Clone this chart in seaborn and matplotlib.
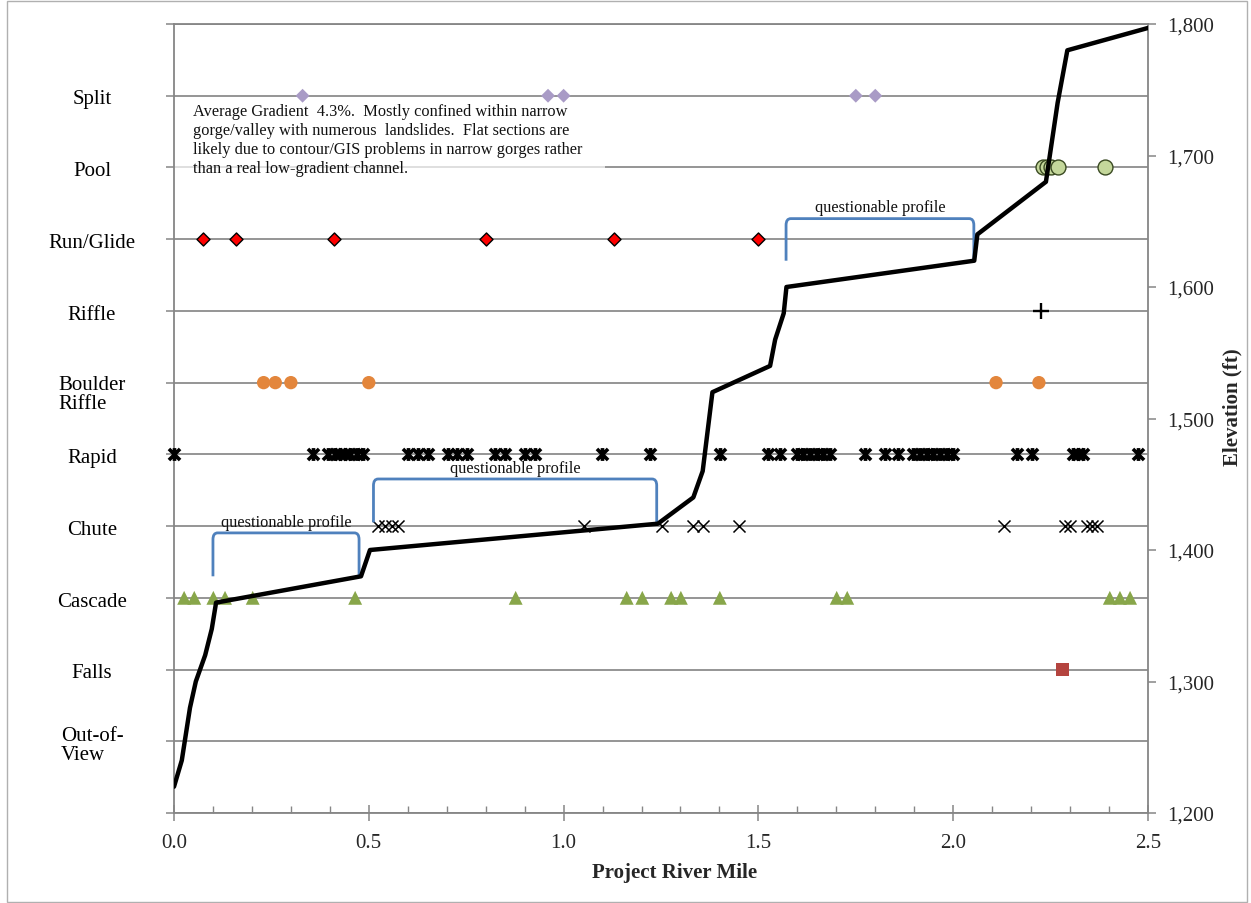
import numpy as np
import pandas as pd
import matplotlib
matplotlib.use("Agg")
import matplotlib.pyplot as plt
import seaborn as sns
from matplotlib.path import Path
from matplotlib.patches import PathPatch, Rectangle
from matplotlib.ticker import MultipleLocator, FixedLocator, FuncFormatter

# ---------------- data ----------------
# habitat categories, bottom to top on the left axis
categories = ["Out-of-\nView", "Falls", "Cascade", "Chute", "Rapid",
              "Boulder\nRiffle", "Riffle", "Run/Glide", "Pool", "Split"]

split_mi = [0.33, 0.96, 1.00, 1.75, 1.80]
pool_mi = [2.23, 2.24, 2.25, 2.27, 2.39]
run_glide_mi = [0.075, 0.16, 0.41, 0.80, 1.13, 1.50]
riffle_mi = [2.225]
boulder_riffle_mi = [0.23, 0.26, 0.30, 0.50, 2.11, 2.22]
rapid_mi = [0.0, 0.358, 0.396, 0.413, 0.426, 0.439, 0.452, 0.469, 0.486,
            0.601, 0.627, 0.653, 0.704, 0.726, 0.751, 0.824, 0.850, 0.901,
            0.927, 1.098, 1.222, 1.401, 1.525, 1.555, 1.598, 1.615, 1.632,
            1.650, 1.667, 1.684, 1.774, 1.826, 1.859, 1.898, 1.915, 1.932,
            1.949, 1.966, 1.983, 2.000, 2.163, 2.201, 2.308, 2.321, 2.334,
            2.475]
chute_mi = [0.524, 0.542, 0.559, 0.576, 1.052, 1.252, 1.333, 1.359, 1.451,
            2.131, 2.287, 2.300, 2.343, 2.355, 2.368]
cascade_mi = [0.026, 0.052, 0.101, 0.131, 0.202, 0.465, 0.877, 1.162, 1.202,
              1.276, 1.301, 1.401, 1.701, 1.728, 2.402, 2.428, 2.454]
falls_mi = [2.28]
out_of_view_mi = []

# elevation profile (right axis)
elev_mi = [0.0, 0.02, 0.041, 0.056, 0.08, 0.097, 0.108, 0.48, 0.503, 1.242,
           1.333, 1.357, 1.382, 1.530, 1.543, 1.565, 1.572, 2.054, 2.062,
           2.238, 2.268, 2.293, 2.5]
elev_ft = [1220, 1240, 1280, 1300, 1320, 1340, 1360, 1380, 1400, 1420,
           1440, 1460, 1520, 1540, 1560, 1580, 1600, 1620, 1640,
           1680, 1740, 1780, 1797]

x_ticks = [0.0, 0.5, 1.0, 1.5, 2.0, 2.5]
elev_ticks = [1200, 1300, 1400, 1500, 1600, 1700, 1800]

# "questionable profile" brackets: start mile, end mile, bottom ft, top ft
bracket_start = [0.100, 0.512, 1.571]
bracket_end = [0.475, 1.239, 2.053]
bracket_bottom = [1380, 1421, 1620]
bracket_top = [1413, 1454, 1652]
bracket_label = "questionable profile"

note = ("Average Gradient  4.3%.  Mostly confined within narrow\n"
        "gorge/valley with numerous  landslides.  Flat sections are\n"
        "likely due to contour/GIS problems in narrow gorges rather\n"
        "than a real low-gradient channel.")

series_mi = {
    "Split": split_mi, "Pool": pool_mi, "Run/Glide": run_glide_mi,
    "Riffle": riffle_mi, "Boulder\nRiffle": boulder_riffle_mi,
    "Rapid": rapid_mi, "Chute": chute_mi, "Cascade": cascade_mi,
    "Falls": falls_mi, "Out-of-\nView": out_of_view_mi,
}
rows = []
for cat, mis in series_mi.items():
    for m in mis:
        rows.append({"category": cat, "mile": m,
                     "row": categories.index(cat) + 1})
df = pd.DataFrame(rows, columns=["category", "mile", "row"])
elev_df = pd.DataFrame({"mile": elev_mi, "elevation": elev_ft})

# ---------------- style ----------------
sns.set_theme(style="white")
plt.rcParams["font.family"] = ["Liberation Serif", "DejaVu Serif"]
GRID = "#8c8c8c"
SPINE = "#868686"
FS = 15

star = Path([(-1, -1), (1, 1), (-1, 1), (1, -1), (0, -1.15), (0, 1.15)],
            [Path.MOVETO, Path.LINETO] * 3)

styles = {
    "Split": dict(marker="D", s=50, color="#A99BC6", edgecolor="none", linewidth=0),
    "Pool": dict(marker="o", s=115, color="#C4D79B", edgecolor="#3a4a22", linewidth=1.0),
    "Run/Glide": dict(marker="D", s=44, color="#FF0000", edgecolor="black", linewidth=1.0),
    "Riffle": dict(marker="+", s=120, color="black", linewidth=1.7),
    "Boulder\nRiffle": dict(marker="o", s=92, color="#E3863C", edgecolor="none", linewidth=0),
    "Rapid": dict(marker=star, s=85, color="black", edgecolor="black", linewidth=2.6),
    "Chute": dict(marker="x", s=75, color="black", linewidth=1.1),
    "Cascade": dict(marker="^", s=100, color="#88A64A", edgecolor="none", linewidth=0),
    "Falls": dict(marker="s", s=92, color="#B4443F", edgecolor="none", linewidth=0),
}

fig = plt.figure(figsize=(12.51, 9.04), dpi=100)
W, H = 1251, 904
L, R, T, B = 174, 1148, 25, 814
ax = fig.add_axes([L / W, 1 - B / H, (R - L) / W, (B - T) / H])

# markers by habitat
for cat in categories:
    sub = df[df["category"] == cat]
    if sub.empty:
        continue
    sns.scatterplot(data=sub, x="mile", y="row", ax=ax, legend=False,
                    zorder=4, clip_on=False, **styles[cat])

ax.set_xlim(0, 2.5)
ax.set_ylim(0, 11)
ax.set_yticks(range(0, 12))
ax.set_yticklabels([""] * 12)
ax.yaxis.grid(True, color=GRID, lw=1.3, zorder=0)
ax.xaxis.grid(False)
ax.set_axisbelow(True)
ax.tick_params(axis="y", which="major", left=True, direction="out",
               length=6, width=1.1, color=SPINE)
ax.xaxis.set_major_locator(FixedLocator(x_ticks))
ax.xaxis.set_minor_locator(MultipleLocator(0.1))
ax.xaxis.set_major_formatter(FuncFormatter(lambda v, p: f"{v:.1f}"))
ax.tick_params(axis="x", which="major", bottom=True, direction="inout",
               length=11, width=1.1, color=SPINE, labelsize=FS, pad=9)
ax.tick_params(axis="x", which="minor", bottom=True, direction="in",
               length=5, width=1.0, color=SPINE)
ax.set_xlabel("Project River Mile", fontsize=FS, fontweight="bold")
ax.xaxis.set_label_coords(0.514, -0.062)
ax.set_ylabel("")
for side in ["left", "bottom", "top"]:
    ax.spines[side].set_color(SPINE)
    ax.spines[side].set_linewidth(1.3)
ax.spines["right"].set_visible(False)

# category labels (centered blocks left of axis)
for i, cat in enumerate(categories):
    dy = 0.0
    if cat.startswith("Boulder"):
        dy = -0.12
    ax.text(-0.0842, i + 1 - 0.045 + dy, cat, transform=ax.get_yaxis_transform(),
            ha="center", va="center", fontsize=FS, multialignment="left",
            linespacing=1.0, color="black")

# semi-transparent note box
ax.add_patch(Rectangle((0.0, 0.788), 0.443, 0.117, transform=ax.transAxes,
                       facecolor="white", edgecolor="none", alpha=0.7, zorder=1))
ax.text(0.0195, 0.900, note, transform=ax.transAxes, ha="left", va="top",
        fontsize=11.8, linespacing=1.24, color="#111111", zorder=2)

# elevation on secondary axis
ax2 = ax.twinx()
sns.lineplot(data=elev_df, x="mile", y="elevation", ax=ax2, color="black",
             lw=3.2, sort=False, estimator=None, zorder=5)
ax2.set_ylim(1200, 1800)
ax2.set_xlim(0, 2.5)
ax2.yaxis.set_major_locator(FixedLocator(elev_ticks))
ax2.yaxis.set_major_formatter(FuncFormatter(lambda v, p: f"{int(v):,}"))
ax2.tick_params(axis="y", right=True, direction="out", length=6, width=1.1,
                color=SPINE, labelsize=FS, pad=8)
ax2.set_ylabel("Elevation (ft)", fontsize=FS, fontweight="bold")
ax2.yaxis.set_label_coords(1.076, 0.515)
ax2.set_xlabel("")
ax2.grid(False)
for side in ["left", "bottom", "top"]:
    ax2.spines[side].set_visible(False)
ax2.spines["right"].set_color(SPINE)
ax2.spines["right"].set_linewidth(1.3)

# brackets
BLUE = "#4F81BD"
rx, ry = 0.012, 5
for x0, x1, yb, yt in zip(bracket_start, bracket_end, bracket_bottom, bracket_top):
    verts = [(x0, yb), (x0, yt - ry), (x0, yt), (x0 + rx, yt),
             (x1 - rx, yt), (x1, yt), (x1, yt - ry), (x1, yb)]
    codes = [Path.MOVETO, Path.LINETO, Path.CURVE3, Path.CURVE3,
             Path.LINETO, Path.CURVE3, Path.CURVE3, Path.LINETO]
    ax2.add_patch(PathPatch(Path(verts, codes), facecolor="none",
                            edgecolor=BLUE, lw=2.0, zorder=4))
    ax2.text((x0 + x1) / 2, yt + 2.5, bracket_label, ha="center", va="bottom",
             fontsize=11.8, color="#111111", zorder=4)

# outer chart border
fig.patches.append(Rectangle((7 / W, 1 / H), (1247 - 7) / W, (902 - 1) / H,
                             transform=fig.transFigure, fill=False,
                             edgecolor="#b0b0b0", lw=1.0))

fig.savefig("out.png", dpi=100)
